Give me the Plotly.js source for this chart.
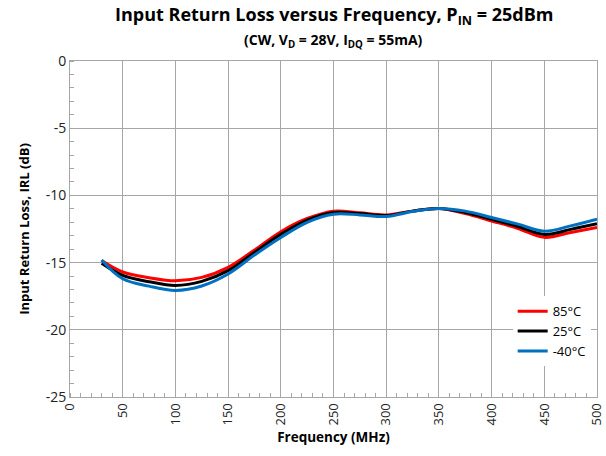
<!DOCTYPE html>
<html>
<head>
<meta charset="utf-8">
<script src="https://cdn.plot.ly/plotly-3.0.1.min.js"></script>
<style>html,body{margin:0;padding:0;background:#fff;}#chart{width:606px;height:456px;}</style>
</head>
<body>
<div id="chart"></div>
<script>
const freq = [30, 50, 75, 100, 125, 150, 175, 200, 225, 250, 275, 300, 325, 350, 375, 400, 425, 450, 475, 500];
const irl85 = [-14.85, -15.7, -16.12, -16.35, -16.1, -15.35, -14.07, -12.7, -11.72, -11.17, -11.3, -11.45, -11.17, -10.97, -11.35, -11.9, -12.46, -13.12, -12.76, -12.38];
const irl25 = [-15.05, -15.95, -16.42, -16.7, -16.4, -15.6, -14.24, -12.9, -11.84, -11.27, -11.35, -11.5, -11.17, -10.97, -11.27, -11.77, -12.31, -12.9, -12.53, -12.11];
const irlm40 = [-14.8, -16.2, -16.75, -17.07, -16.74, -15.85, -14.44, -13.13, -12.0, -11.4, -11.45, -11.57, -11.2, -10.97, -11.17, -11.64, -12.14, -12.66, -12.27, -11.77];
const seriesNames = ['85°C', '25°C', '-40°C'];
const seriesColors = ['#ff0000', '#000000', '#0070c0'];
const xTicks = [0, 50, 100, 150, 200, 250, 300, 350, 400, 450, 500];
const yTicks = [-25, -20, -15, -10, -5, 0];

const series = [irl85, irl25, irlm40];
const traces = series.map((ys, i) => ({
  x: freq, y: ys, type: 'scatter', mode: 'lines', name: seriesNames[i],
  line: {color: seriesColors[i], width: 3, shape: 'spline', smoothing: 1}
}));

const FONT = 'Open Sans, Noto Sans, Arial, sans-serif';
const layout = {
  width: 606, height: 456,
  margin: {l: 70, r: 8.5, t: 60.5, b: 59},
  paper_bgcolor: '#fff', plot_bgcolor: '#fff',
  font: {family: FONT, color: '#000', size: 13},
  showlegend: true,
  legend: {x: 0.84, y: 0.30, xanchor: 'left', yanchor: 'top', bgcolor: '#fff',
           font: {size: 13, family: FONT}, tracegroupgap: 0, itemwidth: 30},
  xaxis: {range: [0, 500], tickvals: xTicks, ticktext: xTicks.map(String), tickangle: -90,
          showgrid: true, gridcolor: '#a6a6a6', gridwidth: 1,
          showline: true, linecolor: '#a6a6a6', linewidth: 1, mirror: true,
          ticks: '', zeroline: false, tickfont: {size: 13, color: '#222'},
          minor: {dtick: 10, tick0: 0, ticks: 'inside', ticklen: 4, tickcolor: '#a6a6a6', showgrid: false},
          title: {text: '<b>Frequency (MHz)</b>', font: {size: 13.5}, standoff: 8}},
  yaxis: {range: [-25, 0], tickvals: yTicks, ticktext: yTicks.map(String),
          showgrid: true, gridcolor: '#a6a6a6', gridwidth: 1,
          showline: true, linecolor: '#a6a6a6', linewidth: 1, mirror: true,
          ticks: '', zeroline: false, tickfont: {size: 14, color: '#222'},
          minor: {dtick: 1, tick0: 0, ticks: 'inside', ticklen: 4, tickcolor: '#a6a6a6', showgrid: false},
          title: {text: '<b>Input Return Loss, IRL (dB)</b>', font: {size: 13}, standoff: 13}},
  annotations: [
    {text: '<b>Input Return Loss versus Frequency, P<sub>IN</sub> = 25dBm</b>', xref: 'paper', yref: 'paper',
     x: 0.5, y: 1.135, xanchor: 'center', yanchor: 'middle', showarrow: false, font: {size: 18, family: FONT}},
    {text: '<b>(CW, V<sub>D</sub> = 28V, I<sub>DQ</sub> = 55mA)</b>', xref: 'paper', yref: 'paper',
     x: 0.5, y: 1.06, xanchor: 'center', yanchor: 'middle', showarrow: false, font: {size: 14, family: FONT}}
  ]
};
Plotly.newPlot('chart', traces, layout, {displayModeBar: false, staticPlot: true});
</script>
</body>
</html>
